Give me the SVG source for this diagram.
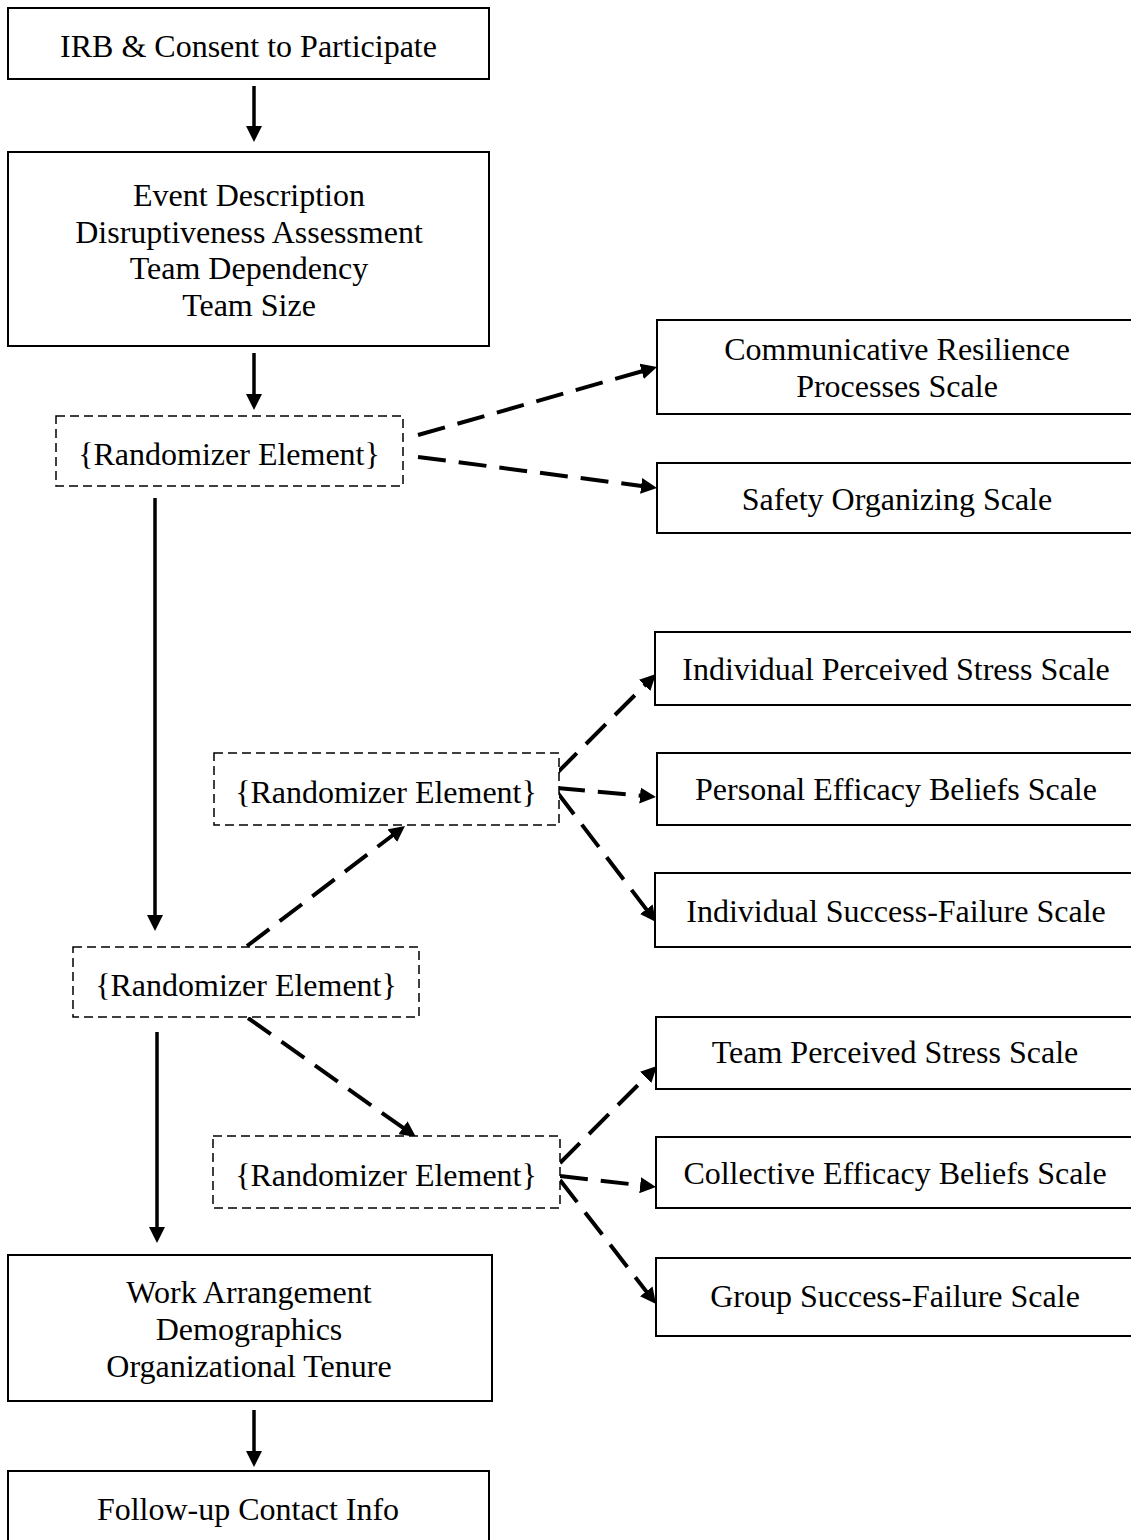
<svg xmlns="http://www.w3.org/2000/svg" width="1131" height="1540" viewBox="0 0 1131 1540">
<defs>
<style>
.box{fill:#fff;stroke:#000;stroke-width:2}
.rnd{fill:#fff;stroke:#000;stroke-width:1.5;stroke-dasharray:9 5}
.t{font-family:"Liberation Serif","Times New Roman",serif;font-size:32px;fill:#000;text-anchor:middle}
.solid{stroke:#000;stroke-width:3.5;fill:none}
.dash{stroke:#000;stroke-width:4;fill:none;stroke-dasharray:28 13}
</style>
<marker id="ah" markerUnits="userSpaceOnUse" markerWidth="16" markerHeight="16" refX="6" refY="8" orient="auto">
<path d="M0,0 L16,8 L0,16 z" fill="#000"/>
</marker>
</defs>
<rect width="1131" height="1540" fill="#fff"/>

<g id="connectors">
<line class="solid" x1="254" y1="86" x2="254" y2="132" marker-end="url(#ah)"/>
<line class="solid" x1="254" y1="353" x2="254" y2="400" marker-end="url(#ah)"/>
<line class="solid" x1="155" y1="498" x2="155" y2="921" marker-end="url(#ah)"/>
<line class="solid" x1="157" y1="1032" x2="157" y2="1233" marker-end="url(#ah)"/>
<line class="solid" x1="254" y1="1410" x2="254" y2="1457" marker-end="url(#ah)"/>
<line class="dash" x1="418" y1="435" x2="647.4" y2="369.7" marker-end="url(#ah)"/>
<line class="dash" x1="418" y1="457" x2="647.1" y2="486.7" marker-end="url(#ah)"/>
<line class="dash" x1="247" y1="946" x2="397" y2="832" marker-end="url(#ah)"/>
<line class="dash" x1="557" y1="773" x2="648.9" y2="681.1" marker-end="url(#ah)"/>
<line class="dash" x1="557" y1="788" x2="646" y2="796.1" marker-end="url(#ah)"/>
<line class="dash" x1="557" y1="792" x2="649.9" y2="914" marker-end="url(#ah)"/>
<line class="dash" x1="248" y1="1018" x2="407.8" y2="1131.2" marker-end="url(#ah)"/>
<line class="dash" x1="560" y1="1163" x2="649.9" y2="1073.1" marker-end="url(#ah)"/>
<line class="dash" x1="560" y1="1176" x2="646.1" y2="1185.9" marker-end="url(#ah)"/>
<line class="dash" x1="560" y1="1180" x2="649.9" y2="1296.1" marker-end="url(#ah)"/>
</g>

<g id="irb">
<rect class="box" x="8" y="8" width="481" height="71"/>
<text class="t" x="248.5" y="57">IRB &amp; Consent to Participate</text>
</g>

<g id="event">
<rect class="box" x="8" y="152" width="481" height="194"/>
<text class="t" x="249" y="206">Event Description</text>
<text class="t" x="249" y="243">Disruptiveness Assessment</text>
<text class="t" x="249" y="279">Team Dependency</text>
<text class="t" x="249" y="316">Team Size</text>
</g>

<g id="rand1">
<rect class="rnd" x="56" y="416" width="347" height="70"/>
<text class="t" x="229" y="465">{Randomizer Element}</text>
</g>

<g id="comm">
<rect class="box" x="657" y="320" width="480" height="94"/>
<text class="t" x="897" y="360">Communicative Resilience</text>
<text class="t" x="897" y="397">Processes Scale</text>
</g>

<g id="safety">
<rect class="box" x="657" y="463" width="480" height="70"/>
<text class="t" x="897" y="510">Safety Organizing Scale</text>
</g>

<g id="rand2">
<rect class="rnd" x="214" y="753" width="345" height="72"/>
<text class="t" x="386" y="803">{Randomizer Element}</text>
</g>

<g id="indstress">
<rect class="box" x="655" y="632" width="482" height="73"/>
<text class="t" x="896" y="680">Individual Perceived Stress Scale</text>
</g>

<g id="personal">
<rect class="box" x="657" y="753" width="480" height="72"/>
<text class="t" x="896" y="800">Personal Efficacy Beliefs Scale</text>
</g>

<g id="indsuccess">
<rect class="box" x="655" y="873" width="482" height="74"/>
<text class="t" x="896" y="922">Individual Success-Failure Scale</text>
</g>

<g id="rand3">
<rect class="rnd" x="73" y="947" width="346" height="70"/>
<text class="t" x="246" y="996">{Randomizer Element}</text>
</g>

<g id="rand4">
<rect class="rnd" x="213" y="1136" width="347" height="72"/>
<text class="t" x="386" y="1186">{Randomizer Element}</text>
</g>

<g id="teamstress">
<rect class="box" x="656" y="1017" width="481" height="72"/>
<text class="t" x="895" y="1063">Team Perceived Stress Scale</text>
</g>

<g id="collective">
<rect class="box" x="656" y="1137" width="481" height="71"/>
<text class="t" x="895" y="1184">Collective Efficacy Beliefs Scale</text>
</g>

<g id="group">
<rect class="box" x="656" y="1258" width="481" height="78"/>
<text class="t" x="895" y="1307">Group Success-Failure Scale</text>
</g>

<g id="work">
<rect class="box" x="8" y="1255" width="484" height="146"/>
<text class="t" x="249" y="1303">Work Arrangement</text>
<text class="t" x="249" y="1340">Demographics</text>
<text class="t" x="249" y="1377">Organizational Tenure</text>
</g>

<g id="followup">
<rect class="box" x="8" y="1471" width="481" height="80"/>
<text class="t" x="248" y="1520">Follow-up Contact Info</text>
</g>
</svg>
